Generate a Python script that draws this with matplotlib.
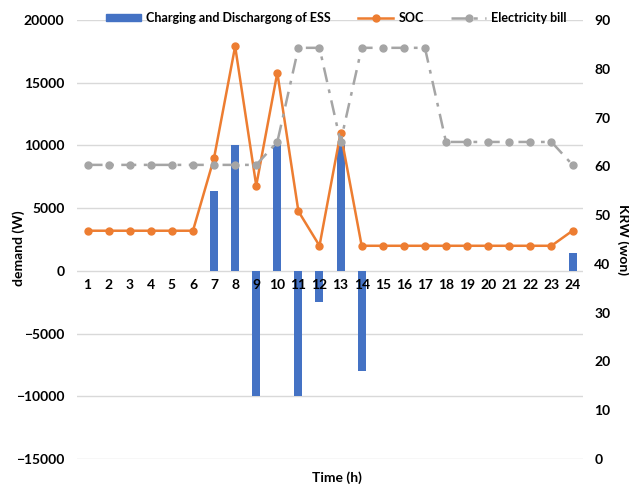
import numpy as np
import matplotlib.pyplot as plt
from matplotlib.lines import Line2D
from matplotlib.patches import Patch

plt.rcParams['font.family'] = ['Lato', 'DejaVu Sans']
plt.rcParams['font.weight'] = 'bold'

# data
hours = list(range(1, 25))
ess = [0, 0, 0, 0, 0, 0, 6400, 10000, -10000, 10000, -10000, -2500,
       10000, -8000, 0, 0, 0, 0, 0, 0, 0, 0, 0, 1400]
soc = [3200, 3200, 3200, 3200, 3200, 3200, 9000, 17900, 6800, 15800, 4750, 2000,
       11000, 2000, 2000, 2000, 2000, 2000, 2000, 2000, 2000, 2000, 2000, 3200]
bill = [60.3, 60.3, 60.3, 60.3, 60.3, 60.3, 60.3, 60.3, 60.3, 65.0, 84.3, 84.3,
        65.0, 84.3, 84.3, 84.3, 84.3, 65.0, 65.0, 65.0, 65.0, 65.0, 65.0, 60.3]

blue = '#4472C4'
orange = '#ED7D31'
gray = '#A5A5A5'

fig = plt.figure(figsize=(6.29, 4.86), dpi=100)
ax = fig.add_axes([0.1224, 0.0556, 0.8046, 0.9032])
ax2 = ax.twinx()

# gridlines drawn by hand so the tick labels stay in front of the bars
for yv in np.arange(-15000, 20001, 5000):
    ax.axhline(yv, color='#D9D9D9', lw=1, zorder=0)

ax.bar(hours, ess, width=0.38, color=blue, zorder=1)
ax.plot(hours, soc, color=orange, lw=1.8, marker='o', ms=5, zorder=3)
ax2.plot(hours, bill, color=gray, lw=1.8, dashes=[6, 3, 1.5, 3], marker='o', ms=5, zorder=2)

ax.set_xlim(0.5, 24.5)
ax.set_ylim(-15000, 20000)
ax.set_yticks(np.arange(-15000, 20001, 5000))
ax2.set_ylim(0, 90)
ax2.set_yticks(np.arange(0, 91, 10))

ax.set_xticks(hours)
ax.spines['bottom'].set_position(('data', 0))
for s in ['top', 'right', 'left', 'bottom']:
    ax.spines[s].set_visible(False)
    ax2.spines[s].set_visible(False)
ax.tick_params(axis='x', length=0, pad=6, labelsize=10)
ax.tick_params(axis='y', length=0, pad=9, labelsize=10)
ax2.tick_params(axis='y', length=0, pad=8, labelsize=10)

fig.text(0.029, 0.49, 'demand (W)', rotation=90, ha='center', va='center',
         fontsize=10, fontweight='bold')
ax2.set_ylabel('KRW (won)', fontsize=10, fontweight='bold', rotation=270, labelpad=14)
fig.text(0.535, 0.018, 'Time (h)', ha='center', va='center', fontsize=10, fontweight='bold')

handles = [Patch(color=blue),
           Line2D([], [], color=orange, lw=1.8, marker='o', ms=5),
           Line2D([], [], color=gray, lw=1.8, dashes=[6, 3, 1.5, 3], marker='o', ms=5)]
labels = ['Charging and Dischargong of ESS', 'SOC', 'Electricity bill']
fig.legend(handles, labels, loc='center', bbox_to_anchor=(0.535, 0.963), ncol=3,
           frameon=False, fontsize=9, handlelength=2.8, handletextpad=0.4,
           columnspacing=2.2, handleheight=0.5)

fig.savefig('out.png', dpi=100)
